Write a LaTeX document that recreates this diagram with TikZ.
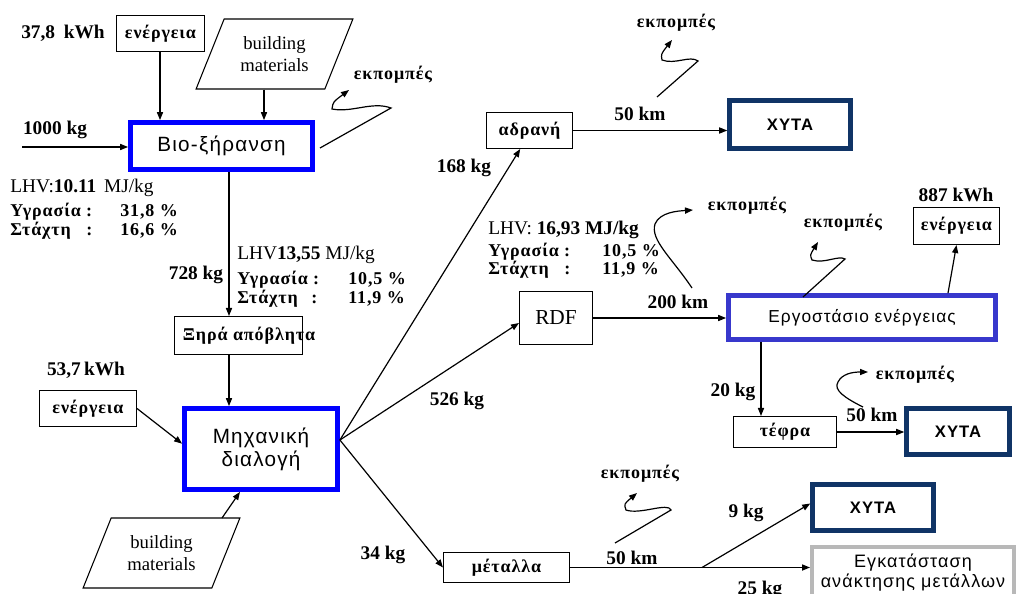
\documentclass[tikz,border=0pt]{standalone}
\usepackage{fontspec}
\setmainfont{Liberation Serif}
\newfontfamily\sansf{Liberation Sans}
\newfontfamily\sansls{Liberation Sans}[LetterSpace=6]
\newfontfamily\serls{Liberation Serif}[LetterSpace=5]
\usetikzlibrary{arrows.meta,shapes.geometric}
\definecolor{bluebd}{RGB}{0,0,255}
\definecolor{navybd}{RGB}{16,52,102}
\definecolor{ergbd}{RGB}{56,56,204}
\definecolor{graybd}{RGB}{184,184,184}
\tikzset{
  thinbox/.style={draw=black, line width=0.8pt, inner sep=0pt, font=\fontsize{13.5}{15}\serls\bfseries},
  bluebox/.style={draw=bluebd, line width=3.6pt, inner sep=0pt, font=\fontsize{15.5}{17}\sansls},
  ergbox/.style={draw=ergbd, line width=3.6pt, inner sep=0pt, font=\fontsize{13}{15}\sansls},
  navybox/.style={draw=navybd, line width=3.4pt, inner sep=0pt, font=\fontsize{12.5}{15}\sansls\bfseries},
  graybox/.style={draw=graybd, line width=3pt, inner sep=0pt, font=\fontsize{13.5}{15}\sansls},
  para/.style={draw=black, line width=0.8pt, trapezium, trapezium left angle=61.5, trapezium right angle=118.5,
    trapezium stretches=true, minimum width=117.75pt, minimum height=52.5pt, inner sep=0pt,
    align=center, font=\fontsize{14}{16.5}\selectfont},
  arr/.style={-{Triangle[length=6pt,width=4.6pt]}, line width=0.9pt},
  lbl/.style={inner sep=0pt, font=\fontsize{14.5}{16}\selectfont\bfseries},
  emi/.style={inner sep=0pt, font=\fontsize{13.5}{16}\serls\bfseries},
  prop/.style={inner sep=0pt, anchor=west, font=\fontsize{13.5}{16}\serls\bfseries},
  lhv/.style={inner sep=0pt, anchor=west, font=\fontsize{14.5}{16}\selectfont},
}
\begin{document}
\begin{tikzpicture}[x=0.75pt,y=-0.75pt]
\useasboundingbox (0,0) rectangle (1018,593);
\clip (0,0) rectangle (1018,593);
\fill[white] (0,0) rectangle (1018,593);

% ---------- boxes ----------
\node[thinbox, minimum width=66pt, minimum height=27pt] (e1) at (160.5,33.5) {ενέργεια};
\node[para] (bm1) at (274.5,54) {building\\materials};
\node[bluebox, minimum width=136.5pt, minimum height=35.25pt] (bio) at (221.5,146) {Βιο-ξήρανση};
\node[thinbox, minimum width=96pt, minimum height=28.5pt] (dry) at (238.5,335.5) {};
\node[inner sep=0pt, font=\fontsize{13.5}{15}\serls\bfseries] (drytxt) at (249,335.5) {Ξηρά απόβλητα};
\node[thinbox, minimum width=72.75pt, minimum height=27pt] (e2) at (88,408.5) {ενέργεια};
\node[bluebox, minimum width=114.75pt, minimum height=60.75pt, align=center,
      font=\fontsize{15.5}{17.25}\sansls] (mech) at (261,449) {Μηχανική\\διαλογή};
\node[para] (bm2) at (161.5,553) {building\\materials};
\node[thinbox, minimum width=64.5pt, minimum height=27pt] (adr) at (529.5,130.5) {αδρανή};
\node[navybox, minimum width=90.75pt, minimum height=36pt] (x1) at (790,124.5) {ΧΥΤΑ};
\node[thinbox, minimum width=54.75pt, minimum height=39.75pt, font=\fontsize{16}{18}\selectfont] (rdf) at (556,318) {RDF};
\node[ergbox, minimum width=200.25pt, minimum height=33pt] (erg) at (862,317.5) {Εργοστάσιο ενέργειας};
\node[thinbox, minimum width=64.5pt, minimum height=27.75pt] (e3) at (956.5,226) {ενέργεια};
\node[thinbox, minimum width=77.25pt, minimum height=23.25pt] (teph) at (785,432) {τέφρα};
\node[navybox, minimum width=77.25pt, minimum height=34.5pt] (x2) at (958,431.5) {ΧΥΤΑ};
\node[thinbox, minimum width=94.5pt, minimum height=22.5pt] (met) at (506.5,567.5) {μέταλλα};
\node[navybox, minimum width=90.75pt, minimum height=34.5pt] (x3) at (873,507.5) {ΧΥΤΑ};
\node[graybox, minimum width=151.5pt, minimum height=39pt, align=center,
      font=\fontsize{13.5}{15}\sansls] (egk) at (913,573) {Εγκατάσταση\\ανάκτησης μετάλλων};

% ---------- labels ----------
\node[lbl] (l378) at (63,33) {37,8\hspace{0.45em}kWh};
\node[lbl] (l1000) at (55,130) {1000 kg};
\node[lhv] (lhv1) at (10,188) {LHV:\textbf{10.11}\hspace{0.4em}MJ/kg};
\node[prop] (y1) at (10,212) {Υγρασία :};
\node[prop] (y1v) at (120,212) {31,8 \%};
\node[prop] (s1t) at (10,231) {Στάχτη};
\node[prop] (s1c) at (86,231) {:};
\node[prop] (s1v) at (120,231) {16,6 \%};
\node[lbl] (l728) at (196,275) {728 kg};
\node[lhv] (lhv2) at (237,255) {LHV\textbf{13,55} MJ/kg};
\node[prop] (y2) at (237,280) {Υγρασία :};
\node[prop] (y2v) at (348,280) {10,5 \%};
\node[prop] (s2t) at (237,299) {Στάχτη};
\node[prop] (s2c) at (311,299) {:};
\node[prop] (s2v) at (348,299) {11,9 \%};
\node[lbl] (l537) at (86,370) {53,7\,kWh};
\node[lbl] (l168) at (464,168) {168 kg};
\node[lbl] (l50a) at (640,114) {50 km};
\node[emi] (em1) at (393,75) {εκπομπές};
\node[emi] (em2) at (676,23) {εκπομπές};
\node[lbl] (l526) at (457,401) {526 kg};
\node[lhv] (lhv3) at (488,230) {LHV: \textbf{16,93 MJ/kg}};
\node[prop] (y3) at (488,252) {Υγρασία :};
\node[prop] (y3v) at (602,252) {10,5 \%};
\node[prop] (s3t) at (488,270) {Στάχτη};
\node[prop] (s3c) at (564,270) {:};
\node[prop] (s3v) at (602,270) {11,9 \%};
\node[lbl] (l200) at (678,302) {200 km};
\node[emi] (em3) at (747,206) {εκπομπές};
\node[emi] (em4) at (843,223) {εκπομπές};
\node[lbl] (l887) at (956,195) {887 kWh};
\node[lbl] (l20) at (733,392) {20 kg};
\node[lbl] (l50b) at (872,415) {50 km};
\node[emi] (em5) at (915,375) {εκπομπές};
\node[lbl] (l34) at (383,555) {34 kg};
\node[emi] (em6) at (640,474) {εκπομπές};
\node[lbl] (l9) at (746,513) {9 kg};
\node[lbl] (l50c) at (632,558) {50 km};
\node[lbl] (l25) at (760,590) {25 kg};

% ---------- helper coordinates ----------
\coordinate (in1) at (22,147);
\coordinate (vx1) at (160,0);
\coordinate (vx2) at (264,0);
\coordinate (vx3) at (229,0);
\coordinate (vx4) at (761,0);
\coordinate (b2s) at (222,518);
\coordinate (b2e) at (240,0);
\coordinate (mx) at ([yshift=6.75pt]mech.east);

% ---------- connectors ----------
\draw[arr] (e1.south -| vx1) -- (bio.north -| vx1);
\draw[arr] (bm1.south -| vx2) -- (bio.north -| vx2);
\draw[arr] (in1) -- (in1 -| bio.west);
\draw[arr] (bio.south -| vx3) -- (dry.north -| vx3);
\draw[arr] (dry.south -| vx3) -- (mech.north -| vx3);
\draw[arr] (e2.east) -- ([yshift=4pt]mech.west);
\draw[arr] (b2s) -- (mech.south -| b2e);
\draw[arr] (mx) -- ([xshift=-7pt]adr.south);
\draw[arr] (mx) -- ([yshift=-3.75pt]rdf.west);
\draw[arr] (mx) -- (met.west);
\draw[arr] (adr.east) -- (adr.east -| x1.west);
\draw[arr] (rdf.east) -- (rdf.east -| erg.west);
\draw[arr] ([xshift=64.5pt]erg.north) -- (e3.south);
\draw[arr] (erg.south -| vx4) -- (teph.north -| vx4);
\draw[arr] (teph.east) -- (teph.east -| x2.west);
\draw[arr] (met.east) -- (met.east -| egk.west) coordinate[pos=0.55] (br);
\draw[arr] (br) -- ([yshift=3pt]x3.west);

% ---------- emission squiggles ----------
\coordinate (q1) at (320,148);
\coordinate (q2) at (657,97);
\coordinate (q3) at (692,288);
\coordinate (q4) at (803,297);
\coordinate (q5) at (863,407);
\coordinate (q6) at (615,543);
\draw[arr] (q1) -- (391,108) .. controls (372,101) and (352,113) .. (332,109) .. controls (333,102) .. (349,90);
\draw[arr] (q2) -- (698,61) .. controls (690,55) and (675,65) .. (662,60) .. controls (661,54) .. (672,40);
\draw[arr] (q3) .. controls (672,258) and (650,240) .. (655,224) .. controls (660,212) and (678,211) .. (693,210);
\draw[arr] (q4) -- (845,259) .. controls (838,255) and (825,264) .. (812,260) .. controls (810,255) .. (818,242);
\draw[arr] (q5) .. controls (845,398) and (833,390) .. (838,382) .. controls (842,374) and (852,372) .. (868,372);
\draw[arr] (q6) -- (671,510) .. controls (668,502) and (640,515) .. (626,510) .. controls (624,504) .. (637,493);
\end{tikzpicture}
\end{document}
